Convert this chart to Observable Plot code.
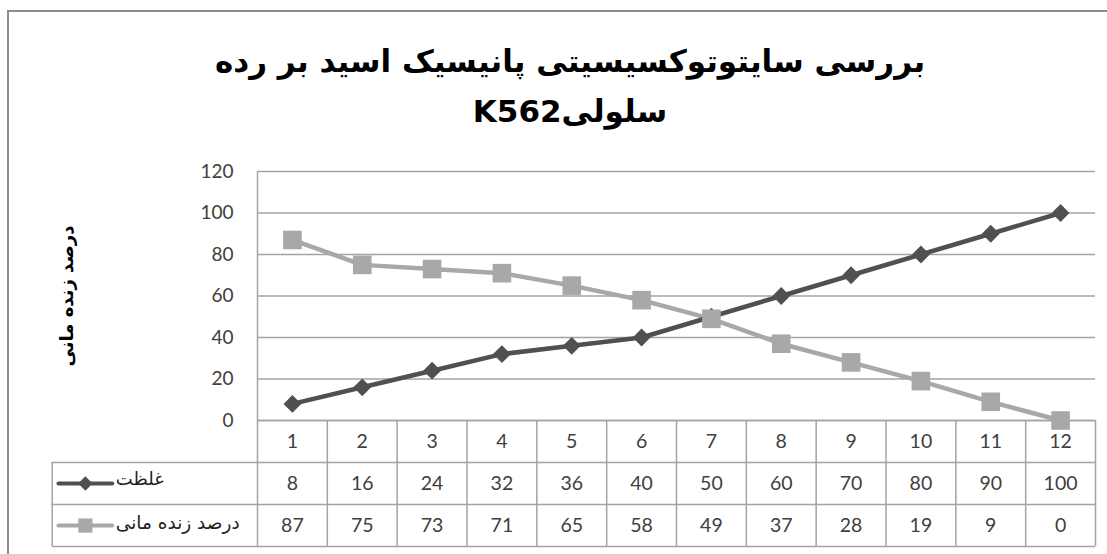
<!DOCTYPE html>
<html>
<head>
<meta charset="utf-8">
<script src="https://cdn.jsdelivr.net/npm/d3@7"></script>
<script src="https://cdn.jsdelivr.net/npm/@observablehq/plot@0.6"></script>
<style>
  html, body { margin: 0; padding: 0; background: #fff; }
  #wrap { position: relative; width: 1107px; height: 554px; overflow: hidden; }
  #border { position: absolute; left: 7px; top: 10px; width: 1200px; height: 700px;
            border-left: 2px solid #8c8c8c; border-top: 2px solid #8c8c8c; }
  #title { position: absolute; left: 170px; width: 800px; top: 36px; text-align: center;
           font-family: "DejaVu Sans", sans-serif; font-weight: bold; font-size: 31px;
           line-height: 50px; color: #000; }
  #chart { position: absolute; left: 0; top: 0; }
</style>
</head>
<body>
<div id="wrap">
  <div id="border"></div>
  <div id="title" dir="rtl">بررسی سایتوتوکسیسیتی پانیسیک اسید بر رده<br>سلولیK562</div>
  <div id="chart"></div>
</div>
<script>
const categories = [1, 2, 3, 4, 5, 6, 7, 8, 9, 10, 11, 12];
const concentration = [8, 16, 24, 32, 36, 40, 50, 60, 70, 80, 90, 100];
const viability = [87, 75, 73, 71, 65, 58, 49, 37, 28, 19, 9, 0];
const seriesNames = ["غلظت", "درصد زنده مانی"];
const yTicks = [0, 20, 40, 60, 80, 100, 120];
const yLabel = "درصد زنده مانی";

const darkC = "#505050", lightC = "#a8a8a8", gridC = "#a3a3a3", textC = "#404040";
const numFont = "Lato, 'Open Sans', sans-serif";

// table layout in scale units
const rowH = 20.25;
const legendLeft = -2.44;
const rows = [-rowH / 2, -rowH * 1.5, -rowH * 2.5];
const rowLines = [-rowH, -rowH * 2, -rowH * 3];
const colLines = d3.range(0, 13).map(i => i + 0.5);

const s1 = categories.map((c, i) => ({x: c, y: concentration[i]}));
const s2 = categories.map((c, i) => ({x: c, y: viability[i]}));

const legX0 = -2.35, legX1 = -1.58, legXm = -1.965, legText = -1.53;

const chart = Plot.plot({
  width: 1107,
  height: 554,
  marginLeft: 257,
  marginRight: 12,
  marginTop: 171,
  marginBottom: 134,
  x: {domain: [0.5, 12.5], axis: null},
  y: {domain: [0, 120]},
  style: {background: "transparent", overflow: "visible"},
  marks: [
    Plot.gridY(yTicks, {stroke: gridC, strokeOpacity: 1, strokeWidth: 1.5}),
    Plot.axisY(yTicks, {tickSize: 0, tickPadding: 24, fontSize: 19, fill: textC,
      fontFamily: numFont, label: yLabel, labelAnchor: "center", labelArrow: "none",
      labelOffset: 197}),
    Plot.ruleX([0.5], {y1: 0, y2: 120, stroke: gridC, strokeWidth: 1.5}),
    // table lines
    Plot.ruleY([0], {x1: 0.5, x2: 12.5, stroke: gridC, strokeWidth: 1.5}),
    Plot.ruleY(rowLines, {x1: legendLeft, x2: 12.5, stroke: gridC, strokeWidth: 1.5}),
    Plot.ruleX(colLines, {y1: 0, y2: rowLines[2], stroke: gridC, strokeWidth: 1.5}),
    Plot.ruleX([legendLeft], {y1: rowLines[0], y2: rowLines[2], stroke: gridC, strokeWidth: 1.5}),
    // table text
    Plot.text(categories, {x: d => d, y: rows[0], text: d => String(d), fontSize: 19.5, fill: textC, fontFamily: numFont}),
    Plot.text(s1, {x: "x", y: rows[1], text: d => String(d.y), fontSize: 19.5, fill: textC, fontFamily: numFont}),
    Plot.text(s2, {x: "x", y: rows[2], text: d => String(d.y), fontSize: 19.5, fill: textC, fontFamily: numFont}),
    // legend samples
    Plot.line([{x: legX0, y: rows[1]}, {x: legX1, y: rows[1]}], {x: "x", y: "y", stroke: darkC, strokeWidth: 4}),
    Plot.dot([{x: legXm, y: rows[1]}], {x: "x", y: "y", symbol: "diamond2", r: 6.5, fill: darkC, stroke: "none"}),
    Plot.line([{x: legX0, y: rows[2]}, {x: legX1, y: rows[2]}], {x: "x", y: "y", stroke: lightC, strokeWidth: 4}),
    Plot.dot([{x: legXm, y: rows[2]}], {x: "x", y: "y", symbol: "square", r: 8, fill: lightC, stroke: "none"}),
    Plot.text([seriesNames[0]], {x: legText, y: rows[1], text: d => d, textAnchor: "start", fontSize: 18, fill: "#222", fontFamily: "'DejaVu Sans', sans-serif", dy: -4}),
    Plot.text([seriesNames[1]], {x: legText, y: rows[2], text: d => d, textAnchor: "start", fontSize: 18.5, fill: "#222", fontFamily: "'DejaVu Sans', sans-serif", dy: -2}),
    // series
    Plot.line(s2, {x: "x", y: "y", stroke: lightC, strokeWidth: 4.5}),
    Plot.line(s1, {x: "x", y: "y", stroke: darkC, strokeWidth: 4.5}),
    Plot.dot(s1, {x: "x", y: "y", symbol: "diamond2", r: 8, fill: darkC, stroke: "none"}),
    Plot.dot(s2, {x: "x", y: "y", symbol: "square", r: 10.5, fill: lightC, stroke: "none"})
  ]
});
// style the y label
d3.select(chart).selectAll("[aria-label='y-axis label'] text, [aria-label='y-axis label']")
  .attr("font-family", "'DejaVu Sans', sans-serif").attr("font-weight", "bold").attr("font-size", 18).attr("fill", "#000");
document.getElementById("chart").appendChild(chart);
</script>
</body>
</html>
